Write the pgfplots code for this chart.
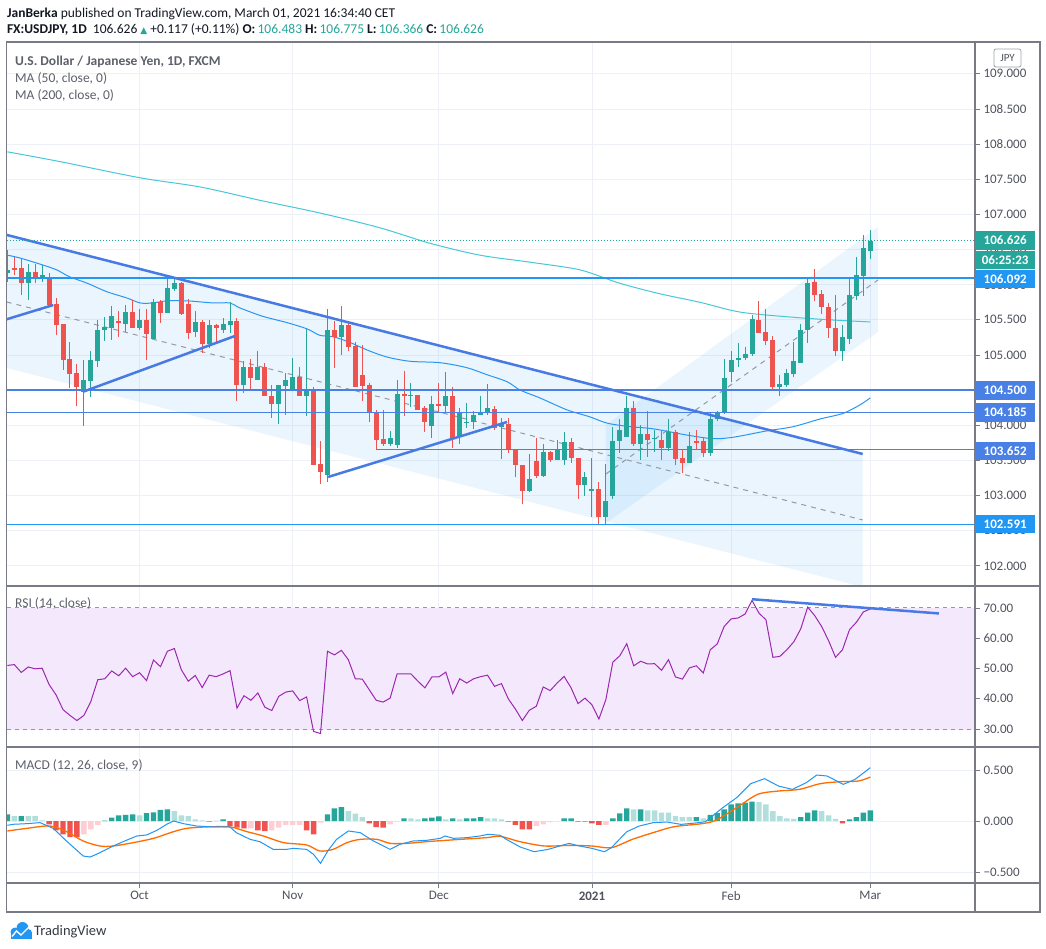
\documentclass[border=0pt]{standalone}
\usepackage{pgfplots}
\pgfplotsset{compat=1.18}
\usepackage{pgfplotstable}
\usepackage{fontspec}
\setmainfont{Carlito}
\newfontfamily\dejavu{DejaVu Sans}

\definecolor{up}{RGB}{38,166,154}
\definecolor{down}{RGB}{239,83,80}
\definecolor{uplight}{RGB}{178,223,219}
\definecolor{downlight}{RGB}{255,205,210}
\definecolor{gridc}{RGB}{237,240,247}
\definecolor{framec}{RGB}{120,123,134}
\definecolor{scalec}{RGB}{80,83,94}
\definecolor{trend}{RGB}{72,122,228}
\definecolor{hlblue}{RGB}{33,150,243}
\definecolor{hlroyal}{RGB}{72,128,230}
\definecolor{chan}{RGB}{33,150,243}
\definecolor{maf}{RGB}{41,151,242}
\definecolor{mas}{RGB}{70,200,218}
\definecolor{rsiline}{RGB}{156,39,176}
\definecolor{rsiband}{RGB}{243,230,252}
\definecolor{sigc}{RGB}{255,109,0}
\definecolor{legendc}{RGB}{93,96,107}
\definecolor{headc}{RGB}{19,23,34}
\definecolor{midc}{RGB}{150,153,162}

% daily candles, i = bar index (0 = first visible bar)
\pgfplotstableread{
i O H L C
0 106.17 106.50 106.04 106.21
1 106.23 106.39 106.14 106.22
2 106.24 106.38 105.85 106.02
3 106.02 106.29 105.78 106.18
4 106.18 106.30 106.02 106.11
5 106.11 106.28 106.04 106.14
6 106.10 106.16 105.69 105.71
7 105.73 105.81 105.29 105.43
8 105.44 105.44 104.79 104.93
9 104.94 105.18 104.53 104.73
10 104.74 104.87 104.27 104.55
11 104.48 104.93 103.99 104.64
12 104.63 105.05 104.40 104.93
13 104.92 105.50 104.83 105.36
14 105.35 105.54 105.20 105.40
15 105.39 105.70 105.22 105.56
16 105.48 105.62 105.26 105.45
17 105.44 105.71 105.32 105.61
18 105.61 105.78 105.38 105.39
19 105.39 105.66 105.36 105.50
20 105.50 105.66 104.93 105.30
21 105.23 105.79 105.23 105.75
22 105.75 105.78 105.46 105.60
23 105.60 106.11 105.60 105.95
24 105.94 106.11 105.91 106.03
25 106.03 106.04 105.57 105.59
26 105.73 105.79 105.23 105.31
27 105.32 105.63 105.26 105.47
28 105.47 105.50 105.03 105.16
29 105.16 105.50 105.10 105.43
30 105.42 105.44 105.19 105.38
31 105.36 105.52 105.31 105.44
32 105.43 105.76 105.31 105.49
33 105.49 105.53 104.34 104.57
34 104.57 104.92 104.46 104.83
35 104.83 104.94 104.50 104.67
36 104.64 105.06 104.64 104.83
37 104.83 104.89 104.41 104.41
38 104.42 104.57 104.11 104.30
39 104.30 104.57 104.02 104.57
40 104.56 104.75 104.15 104.64
41 104.49 104.96 104.49 104.68
42 104.68 104.83 104.42 104.42
43 104.42 105.37 104.13 104.51
44 104.51 104.54 103.43 103.44
45 103.45 103.77 103.17 103.34
46 103.29 105.65 103.20 105.36
47 105.36 105.48 104.82 105.25
48 105.25 105.69 105.00 105.43
49 105.43 105.47 105.06 105.12
50 105.13 105.18 104.55 104.55
51 104.72 105.14 104.35 104.56
52 104.57 104.60 104.05 104.18
53 104.19 104.22 103.65 103.79
54 103.81 104.22 103.71 103.73
55 103.73 103.92 103.70 103.82
56 103.72 104.64 103.67 104.45
57 104.44 104.77 104.13 104.42
58 104.42 104.60 104.26 104.43
59 104.43 104.43 104.22 104.22
60 104.24 104.27 103.90 104.04
61 103.99 104.41 103.82 104.30
62 104.30 104.60 104.18 104.28
63 104.28 104.76 104.18 104.41
64 104.41 104.54 103.67 103.82
65 103.83 104.25 103.73 104.18
66 104.03 104.31 103.96 104.05
67 104.04 104.20 103.95 104.15
68 104.15 104.41 104.15 104.19
69 104.18 104.59 104.15 104.24
70 104.23 104.27 103.93 103.96
71 103.97 104.10 103.52 104.03
72 104.02 104.10 103.60 103.65
73 103.66 103.66 103.27 103.43
74 103.44 103.44 102.88 103.06
75 103.06 103.59 103.05 103.24
76 103.49 103.82 103.25 103.28
77 103.28 103.73 103.27 103.62
78 103.62 103.63 103.48 103.51
79 103.51 103.79 103.51 103.66
80 103.51 103.91 103.43 103.76
81 103.76 103.82 103.46 103.53
82 103.54 103.54 102.95 103.15
83 103.15 103.33 102.99 103.26
84 103.06 103.53 102.70 103.10
85 103.10 103.19 102.59 102.70
86 102.70 103.45 102.60 102.93
87 102.99 103.98 102.95 103.77
88 103.77 104.09 103.60 103.94
89 103.84 104.41 103.83 104.24
90 104.24 104.34 103.71 103.74
91 103.74 104.00 103.51 103.88
92 103.88 104.20 103.55 103.79
93 103.81 103.93 103.62 103.82
94 103.79 103.92 103.50 103.68
95 103.67 104.09 103.63 103.91
96 103.91 103.93 103.44 103.52
97 103.53 103.66 103.32 103.47
98 103.47 103.90 103.46 103.71
99 103.77 103.93 103.66 103.75
100 103.77 103.83 103.55 103.61
101 103.61 104.19 103.56 104.09
102 104.09 104.21 104.06 104.18
103 104.18 104.95 104.16 104.67
104 104.76 105.05 104.62 104.93
105 104.93 105.17 104.83 104.96
106 104.96 105.12 104.93 105.02
107 105.02 105.57 104.98 105.51
108 105.50 105.77 105.31 105.31
109 105.32 105.66 105.14 105.20
110 105.21 105.27 104.50 104.55
111 104.55 104.72 104.41 104.59
112 104.57 104.80 104.54 104.74
113 104.73 105.19 104.68 104.92
114 104.89 105.44 104.88 105.36
115 105.35 106.08 105.17 106.03
116 106.04 106.22 105.77 105.85
117 105.87 105.93 105.58 105.68
118 105.68 105.74 105.24 105.39
119 105.39 105.85 104.98 105.05
120 105.06 105.43 104.92 105.25
121 105.23 106.11 105.16 105.85
122 105.84 106.40 105.78 106.14
123 106.12 106.70 105.84 106.52
124 106.483 106.775 106.366 106.626
}\candles

\pgfplotstableread{
i p
0 106.42
1.8 106.38
5.1 106.28
7.1 106.21
9.0 106.11
11.5 106.02
14.3 105.90
17.2 105.81
19.1 105.74
20.9 105.74
22.9 105.77
25.8 105.77
29.6 105.74
32.0 105.74
33.4 105.67
36.7 105.55
40.2 105.46
43.1 105.37
44.9 105.28
46.8 105.26
49.2 105.18
51.7 105.07
54.6 104.97
57.9 104.91
62.2 104.89
66.0 104.82
68.9 104.72
71.8 104.62
73.7 104.50
76.5 104.39
80.4 104.22
83.7 104.12
86.2 104.03
89.5 103.98
92.8 103.95
97.7 103.86
101.4 103.81
104.3 103.83
109.1 103.92
112.9 103.98
116.8 104.09
120.1 104.17
122.5 104.29
124.0 104.39
}\mafast

\pgfplotstableread{
i p
0 107.89
7.6 107.75
19.1 107.52
27.7 107.39
36.3 107.20
44.9 107.02
53.5 106.81
60.7 106.59
67.9 106.42
75.1 106.32
82.3 106.21
88.0 106.02
93.8 105.87
99.5 105.75
105.3 105.61
112.5 105.54
118.2 105.50
124.0 105.47
}\maslow

\pgfplotstableread{
i v
0 51.0
1 51.3
2 48.7
3 50.5
4 49.9
5 50.1
6 44.7
7 41.3
8 36.4
9 34.5
10 32.8
11 34.5
12 39.1
13 46.3
14 46.6
15 49.2
16 47.6
17 50.1
18 47.3
19 48.6
20 46.0
21 52.8
22 50.6
23 55.7
24 56.6
25 49.6
26 45.8
27 47.7
28 43.7
29 47.8
30 47.3
31 48.2
32 49.3
33 36.9
34 41.0
35 39.5
36 41.9
37 37.2
38 36.1
39 40.8
40 42.2
41 42.6
42 39.4
43 40.6
44 29.2
45 28.5
46 55.7
47 54.5
48 56.0
49 52.9
50 46.6
51 46.5
52 43.0
53 39.5
54 38.9
55 40.2
56 48.2
57 48.2
58 48.2
59 45.8
60 43.6
61 47.2
62 47.2
63 48.8
64 41.7
65 46.6
66 45.2
67 46.6
68 47.3
69 47.8
70 44.1
71 45.0
72 39.9
73 36.6
74 32.8
75 36.2
76 37.5
77 43.9
78 42.7
79 45.2
80 47.4
81 43.6
82 38.4
83 40.2
84 38.0
85 33.3
86 39.7
87 52.1
88 54.2
89 58.2
90 50.9
91 52.4
92 51.5
93 51.6
94 49.4
95 52.9
96 47.2
97 46.5
98 50.2
99 50.9
100 48.5
101 56.2
102 58.1
103 63.9
104 66.4
105 66.7
106 68.0
107 72.5
108 68.3
109 66.1
110 53.7
111 54.0
112 56.2
113 58.8
114 63.1
115 70.3
116 67.5
117 63.9
118 59.2
119 53.7
120 56.2
121 62.8
122 65.3
123 68.7
124 69.7
}\rsi

% histogram: c = 0 rising above zero, 1 falling above zero, 2 falling below zero, 3 rising below zero
\pgfplotstableread{
i h c
0 0.065 0
1 0.049 1
2 0.049 0
3 0.049 1
4 0.049 1
5 0.007 1
6 -0.033 2
7 -0.092 2
8 -0.131 2
9 -0.157 2
10 -0.157 2
11 -0.131 3
12 -0.082 3
13 -0.039 3
14 0.005 0
15 0.033 0
16 0.056 0
17 0.059 0
18 0.065 0
19 0.056 1
20 0.078 0
21 0.085 0
22 0.108 0
23 0.114 0
24 0.098 1
25 0.056 1
26 0.049 1
27 0.016 1
28 0.007 1
29 -0.007 2
30 0.003 1
31 0.016 0
32 -0.049 2
33 -0.065 2
34 -0.072 2
35 -0.072 3
36 -0.092 2
37 -0.098 2
38 -0.092 3
39 -0.065 3
40 -0.039 3
41 -0.039 3
42 -0.039 3
43 -0.092 2
44 -0.131 2
45 -0.016 3
46 0.065 0
47 0.124 0
48 0.137 0
49 0.098 1
50 0.072 1
51 0.039 1
52 -0.023 2
53 -0.059 2
54 -0.065 2
55 -0.033 3
56 -0.007 3
57 0.026 0
58 0.026 1
59 0.016 1
60 0.026 0
61 0.033 0
62 0.046 0
63 0.016 1
64 0.026 0
65 0.016 1
66 0.026 0
67 0.026 0
68 0.039 0
69 0.026 1
70 0.026 1
71 0.016 1
72 -0.007 2
73 -0.039 2
74 -0.082 2
75 -0.082 2
76 -0.049 3
77 -0.033 3
78 -0.010 3
79 -0.003 3
80 0.026 0
81 0.026 0
82 -0.005 2
83 -0.005 2
84 -0.023 2
85 -0.039 2
86 -0.039 3
87 0.026 0
88 0.075 0
89 0.124 0
90 0.114 1
91 0.114 0
92 0.105 1
93 0.105 1
94 0.082 1
95 0.082 1
96 0.049 1
97 0.039 1
98 0.039 1
99 0.039 0
100 0.026 1
101 0.059 0
102 0.078 0
103 0.114 0
104 0.163 0
105 0.173 0
106 0.180 0
107 0.190 0
108 0.186 1
109 0.163 1
110 0.098 1
111 0.049 1
112 0.026 1
113 0.020 1
114 0.039 0
115 0.082 0
116 0.105 0
117 0.098 1
118 0.056 1
119 0.020 1
120 -0.023 2
121 0.016 0
122 0.039 0
123 0.082 0
124 0.105 0
}\hist

\pgfplotstableread{
i v
0 -0.042
0.9 -0.032
2.8 -0.026
4.7 -0.016
6.6 -0.072
8.5 -0.196
10.9 -0.343
11.9 -0.353
13.3 -0.311
15.2 -0.245
17.1 -0.189
18.6 -0.147
20.0 -0.137
21.5 -0.091
22.9 -0.032
23.9 0.0
25.3 -0.026
27.2 -0.049
29.6 -0.058
32.0 -0.058
32.9 -0.114
34.9 -0.180
36.3 -0.203
38.2 -0.278
40.1 -0.278
41.1 -0.268
43.0 -0.278
44.0 -0.327
45.0 -0.415
46.1 -0.288
47.3 -0.180
49.0 -0.098
50.7 -0.114
52.6 -0.196
55.0 -0.278
56.4 -0.229
58.3 -0.196
60.3 -0.189
62.2 -0.170
62.9 -0.147
64.1 -0.170
66.0 -0.163
67.9 -0.147
69.1 -0.130
70.8 -0.140
71.7 -0.180
73.7 -0.255
75.7 -0.301
77.7 -0.278
80.7 -0.219
82.2 -0.245
84.0 -0.268
85.8 -0.301
86.8 -0.261
89.0 -0.105
90.8 -0.049
92.8 -0.016
94.8 -0.010
96.8 -0.033
98.8 -0.020
100.3 -0.007
102.8 0.131
104.8 0.229
106.8 0.366
108.8 0.415
110.8 0.343
112.8 0.310
114.8 0.376
116.3 0.451
117.8 0.441
120.1 0.359
121.8 0.408
124.0 0.523
}\macd

\pgfplotstableread{
i v
0 -0.098
2.8 -0.072
6.1 -0.049
8.5 -0.104
10.9 -0.196
13.3 -0.245
15.2 -0.245
18.1 -0.212
21.0 -0.170
23.9 -0.104
25.8 -0.072
28.6 -0.058
32.0 -0.058
34.4 -0.104
36.8 -0.147
39.7 -0.212
43.0 -0.235
44.9 -0.294
46.8 -0.278
48.8 -0.212
50.7 -0.180
53.1 -0.180
55.0 -0.219
57.4 -0.219
60.3 -0.202
63.1 -0.189
66.0 -0.176
68.9 -0.163
70.8 -0.150
73.7 -0.203
77.2 -0.245
80.7 -0.239
84.0 -0.245
86.8 -0.261
89.8 -0.180
92.8 -0.114
95.8 -0.056
99.8 -0.026
101.8 0.007
104.8 0.131
107.8 0.261
110.8 0.294
113.8 0.310
116.8 0.366
119.8 0.386
122.3 0.392
124.0 0.431
}\signal

\pgfplotsset{
  tvpanel/.style={
    scale only axis, width=968.3pt, anchor=north west,
    xmin=-0.09, xmax=139.04,
    axis line style={draw=none},
    xtick={19,41,62,84,104,124},
    grid=major, grid style={gridc, line width=0.8pt},
    tick align=outside, major tick length=5pt,
    ytick pos=right, yticklabel pos=right,
    tick style={framec, line width=0.8pt},
    ticklabel style={font=\fontsize{13}{15}\selectfont, text=scalec},
  },
  nolabelx/.style={xticklabels={}, xmajorticks=false},
  candle/.style 2 args={only marks, mark=*, mark size=0pt,
    mark options={draw=none, fill=none},
    error bars/.cd, y dir=both, y explicit, error mark=none,
    error bar style={#1, line width=#2}},
}

\begin{document}
\begin{tikzpicture}
\fill[white] (0pt,0pt) rectangle (1046pt,-949pt);
\useasboundingbox (0pt,0pt) rectangle (1046pt,-949pt);

% ---------- price panel ----------
\begin{axis}[tvpanel, nolabelx, at={(6.7pt,-42pt)}, height=544pt,
  ymin=101.714, ymax=109.452,
  ytick={102,102.5,103,103.5,104,104.5,105,105.5,106,106.5,107,107.5,108,108.5,109},
  yticklabels={102.000,102.500,103.000,103.500,104.000,104.500,105.000,105.500,106.000,106.500,107.000,107.500,108.000,108.500,109.000}]
% channels
\addplot[fill=chan, fill opacity=0.09, draw=none] coordinates {(-0.09,106.708) (122.9,103.592) (122.9,101.70) (-0.09,104.815)} -- cycle;
\addplot[fill=chan, fill opacity=0.09, draw=none] coordinates {(86.0,104.004) (125.1,106.821) (125.1,105.327) (86.0,102.610)} -- cycle;
\addplot[midc, line width=1pt, dash pattern=on 5pt off 5pt] coordinates {(-0.09,105.754) (122.9,102.653)};
\addplot[midc, line width=1pt, dash pattern=on 5pt off 5pt] coordinates {(86.0,103.307) (125.1,106.067)};
% moving averages
\addplot[mas, line width=1pt, smooth] table[x=i, y=p] {\maslow};
\addplot[maf, line width=1pt, smooth] table[x=i, y=p] {\mafast};
% candles: wicks, then bodies
\addplot[candle={up}{1pt}] table[x=i, y expr={\thisrow{C}>=\thisrow{O} ? 0.5*(\thisrow{H}+\thisrow{L}) : nan}, y error expr={0.5*(\thisrow{H}-\thisrow{L})}] {\candles};
\addplot[candle={down}{1pt}] table[x=i, y expr={\thisrow{C}<\thisrow{O} ? 0.5*(\thisrow{H}+\thisrow{L}) : nan}, y error expr={0.5*(\thisrow{H}-\thisrow{L})}] {\candles};
\addplot[candle={up}{5pt}] table[x=i, y expr={\thisrow{C}>=\thisrow{O} ? 0.5*(\thisrow{O}+\thisrow{C}) : nan}, y error expr={max(0.5*abs(\thisrow{C}-\thisrow{O}),0.008)}] {\candles};
\addplot[candle={down}{5pt}] table[x=i, y expr={\thisrow{C}<\thisrow{O} ? 0.5*(\thisrow{O}+\thisrow{C}) : nan}, y error expr={max(0.5*abs(\thisrow{C}-\thisrow{O}),0.008)}] {\candles};
% horizontal levels
\addplot[hlblue, line width=2pt] coordinates {(-0.09,106.092) (139.04,106.092)};
\addplot[hlroyal, line width=2pt] coordinates {(-0.09,104.5) (139.04,104.5)};
\addplot[hlroyal, line width=1.2pt] coordinates {(-0.09,104.185) (139.04,104.185)};
\addplot[hlroyal, line width=1.2pt] coordinates {(53.1,103.652) (139.04,103.652)};
\addplot[hlblue, line width=1.2pt] coordinates {(-0.09,102.591) (139.04,102.591)};
% trend lines
\addplot[trend, line width=2.5pt] coordinates {(-0.09,106.708) (122.9,103.592)};
\addplot[trend, line width=2.5pt] coordinates {(-0.09,105.508) (6.6,105.711)};
\addplot[trend, line width=2.5pt] coordinates {(10.9,104.478) (32.7,105.270)};
\addplot[trend, line width=2.5pt] coordinates {(46.1,103.265) (71.8,104.047)};
\addplot[up, line width=1pt, dash pattern=on 1pt off 2pt] coordinates {(-0.09,106.626) (139.04,106.626)};
\end{axis}

% ---------- RSI panel ----------
\begin{axis}[tvpanel, nolabelx, at={(6.7pt,-586pt)}, height=161pt,
  ymin=24.05, ymax=77.27,
  ytick={30,40,50,60,70}, yticklabels={30.00,40.00,50.00,60.00,70.00}]
\addplot[fill=rsiband, fill opacity=0.85, draw=none] coordinates {(-0.09,30) (139.04,30) (139.04,70) (-0.09,70)} -- cycle;
\addplot[midc, line width=1pt, dash pattern=on 4pt off 4pt] coordinates {(-0.09,70) (139.04,70)};
\addplot[midc, line width=1pt, dash pattern=on 4pt off 4pt] coordinates {(-0.09,30) (139.04,30)};
\addplot[rsiline, line width=1pt] table[x=i, y=v] {\rsi};
\addplot[trend, line width=2.5pt] coordinates {(107,72.9) (133.85,68.2)};
\end{axis}

% ---------- MACD panel ----------
\begin{axis}[tvpanel, at={(6.7pt,-747pt)}, height=136pt,
  ymin=-0.6078, ymax=0.7255,
  ytick={-0.5,0,0.5}, yticklabels={−0.500,0.000,0.500},
  xtick pos=bottom,
  xticklabels={Oct,Nov,Dec,\textbf{2021},Feb,Mar}]
\addplot[ybar, bar width=5.4pt, bar shift=0pt, draw=none, fill=up] table[x=i, y expr={\thisrow{c}==0 ? \thisrow{h} : nan}] {\hist};
\addplot[ybar, bar width=5.4pt, bar shift=0pt, draw=none, fill=uplight] table[x=i, y expr={\thisrow{c}==1 ? \thisrow{h} : nan}] {\hist};
\addplot[ybar, bar width=5.4pt, bar shift=0pt, draw=none, fill=down] table[x=i, y expr={\thisrow{c}==2 ? \thisrow{h} : nan}] {\hist};
\addplot[ybar, bar width=5.4pt, bar shift=0pt, draw=none, fill=downlight] table[x=i, y expr={\thisrow{c}==3 ? \thisrow{h} : nan}] {\hist};
\addplot[sigc, line width=1.3pt, smooth] table[x=i, y=v] {\signal};
\addplot[hlblue, line width=1pt] table[x=i, y=v] {\macd};
\end{axis}

% ---------- frame, price tags and texts (pixel grid, y down) ----------
\begin{scope}[x=1pt, y=-1pt]
\draw[framec, line width=1.3pt] (6.7,42) rectangle (1040,912);
\draw[framec, line width=1.3pt] (975,42) -- (975,912);
\draw[framec, line width=1.3pt] (6.7,586) -- (1040,586);
\draw[framec, line width=1.3pt] (6.7,747) -- (1040,747);
\draw[framec, line width=1.3pt] (6.7,883) -- (1040,883);

\tikzset{tag/.style={fill=#1, text=white, font=\fontsize{13}{15}\selectfont\bfseries,
  minimum width=60pt, minimum height=18.5pt, inner sep=0pt, anchor=west}}
\node[tag=up] at (975,240.5) {106.626};
\node[tag=up] at (975,260) {06:25:23};
\node[tag=hlblue] at (975,279) {106.092};
\node[tag=hlroyal] at (975,390.5) {104.500};
\node[tag=hlroyal] at (975,412.5) {104.185};
\node[tag=hlroyal] at (975,451) {103.652};
\node[tag=hlblue] at (975,524) {102.591};

\draw[framec!70, line width=0.8pt, rounded corners=2pt] (994,49) rectangle (1021,67);
\node[text=scalec, font=\fontsize{11}{12}\selectfont] at (1007.5,58) {JPY};

\node[anchor=base west, inner sep=0pt, text=headc, font=\fontsize{13.5}{16}\selectfont]
  at (7,17.5) {\textbf{JanBerka} published on TradingView.com, March 01, 2021 16:34:40 CET};
\node[anchor=base west, inner sep=0pt, text=headc, font=\fontsize{13.5}{16}\selectfont]
  at (7,34) {\textbf{FX:USDJPY, 1D}\ \ 106.626 {\color{up}\dejavu\fontsize{9}{10}\selectfont ▲} +0.117 (+0.11\%) \textbf{O:}\,\textcolor{up}{106.483} \textbf{H:}\,\textcolor{up}{106.775} \textbf{L:}\,\textcolor{up}{106.366} \textbf{C:}\,\textcolor{up}{106.626}};

\node[anchor=base west, inner sep=0pt, text=legendc, font=\fontsize{13.5}{16}\selectfont\bfseries]
  at (15,65.5) {U.S. Dollar / Japanese Yen, 1D, FXCM};
\node[anchor=base west, inner sep=0pt, text=legendc, font=\fontsize{13.5}{16}\selectfont]
  at (15,82.5) {MA (50, close, 0)};
\node[anchor=base west, inner sep=0pt, text=legendc, font=\fontsize{13.5}{16}\selectfont]
  at (15,100) {MA (200, close, 0)};
\node[anchor=base west, inner sep=0pt, text=legendc, font=\fontsize{13.5}{16}\selectfont]
  at (15,607.5) {RSI (14, close)};
\node[anchor=base west, inner sep=0pt, text=legendc, font=\fontsize{13.5}{16}\selectfont]
  at (15,769) {MACD (12, 26, close, 9)};

% logo
\fill[hlblue] (15,932) circle (4.5);
\fill[hlblue] (22.5,928) circle (6);
\fill[hlblue] (28,933) circle (4);
\fill[hlblue] (10.5,932) rectangle (31.5,938.5);
\draw[white, line width=1.4pt] (12,936.5) -- (16.5,931) -- (21,935) -- (29,927);
\node[anchor=base west, inner sep=0pt, text=headc!85, font=\fontsize{14.5}{16}\selectfont]
  at (34,935.5) {TradingView};
\end{scope}
\end{tikzpicture}
\end{document}
